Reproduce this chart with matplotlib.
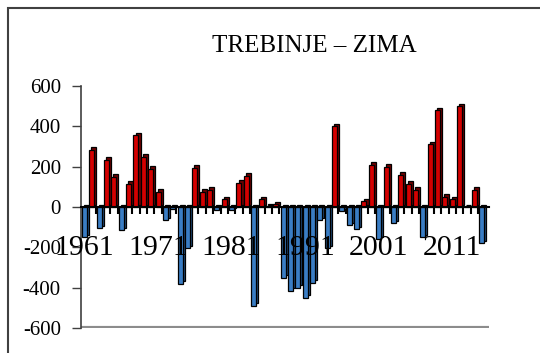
import matplotlib
matplotlib.use('Agg')
import matplotlib.pyplot as plt
from matplotlib.patches import Rectangle
import numpy as np

# winter precipitation anomaly, Trebinje
years = list(range(1961, 2016))
values = [-150, 285, -105, 235, 150, -115, 115, 355, 250, 190,
          75, -65, -10, -380, -205, 195, 75, 85, -15, 40,
          -15, 120, 155, -490, 40, 5, 15, -350, -415, -400,
          -450, -375, -65, -205, 400, -20, -90, -110, 30, 210,
          -160, 200, -80, 160, 115, 85, -150, 310, 480, 50,
          40, 500, 0, 85, -180]
label_years = [1961, 1971, 1981, 1991, 2001, 2011]
yticks = [-600, -400, -200, 0, 200, 400, 600]

serif = 'Liberation Serif'

fig = plt.figure(figsize=(5.4, 3.53), dpi=100)
ax = fig.add_axes([81/540, 25/353, 408/540, 242/353])

x = np.arange(len(years))
vals = np.array(values)
front = np.where(vals >= 0, '#d40000', '#3a7dc4')
side = np.where(vals >= 0, '#6e0000', '#1f4a78')

# fake 3D depth: a darker copy shifted right and up
ax.bar(x + 0.28, vals, width=0.68, bottom=12, color=side, edgecolor='black',
       linewidth=0.9, zorder=2)
ax.bar(x, vals, width=0.68, color=front, edgecolor='black', linewidth=0.9, zorder=3)

ax.set_xlim(-0.475, 55.0)
ax.set_ylim(-600, 600)

for s in ['top', 'right']:
    ax.spines[s].set_visible(False)
ax.spines['left'].set_color('#404040')
ax.spines['left'].set_linewidth(1.2)
ax.spines['bottom'].set_position(('data', 0))
ax.spines['bottom'].set_linewidth(1.5)
ax.spines['bottom'].set_zorder(4)

ax.set_yticks(yticks)
ax.set_yticklabels([str(v) for v in yticks], fontsize=15, family=serif)
ax.tick_params(axis='y', length=6.5, width=1.0, color='#404040', pad=8)

ax.set_xticks([])
ax.set_xticks(x[:-1] + 0.5, minor=True)
ax.tick_params(axis='x', which='minor', direction='out', length=5, width=1.5)

# floor of the 3D chart
ax.axhline(-600, color='#8c8c8c', linewidth=3, zorder=1)

for yr in label_years:
    ax.text(years.index(yr), -240, str(yr), ha='center', va='baseline',
            fontsize=21.5, family=serif, zorder=6)

fig.text(314/540, 1 - 52/353, 'TREBINJE \u2013 ZIMA', ha='center', va='baseline',
         fontsize=18, family=serif)

fig.patches.append(Rectangle((8/540, -0.05), 1.2, 1.05 - 8/353, fill=False,
                             edgecolor='#404040', linewidth=1.5,
                             transform=fig.transFigure))

fig.savefig('out.png', dpi=100)
